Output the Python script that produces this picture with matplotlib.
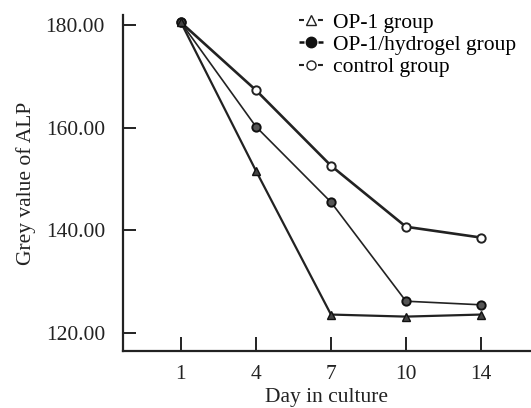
import matplotlib
matplotlib.use('Agg')
import matplotlib.pyplot as plt
from matplotlib.lines import Line2D

days = ['1', '4', '7', '10', '14']
op1 = [180.5, 151.6, 123.6, 123.2, 123.6]
op1_hydrogel = [180.5, 160.2, 145.5, 126.2, 125.5]
control = [180.5, 167.3, 152.6, 140.7, 138.6]
y_ticks = [120, 140, 160, 180]

plt.rcParams['font.family'] = ['Liberation Serif', 'DejaVu Serif']

fig = plt.figure(figsize=(5.31, 4.08), dpi=100)
ax = fig.add_axes([0.2316, 0.1397, 0.7684, 0.8235])

x = list(range(len(days)))
ax.plot(x, control, color='#222222', lw=1.9, marker='o', ms=6,
        mfc='white', mec='#222222', mew=1.4, zorder=3)
ax.plot(x, op1_hydrogel, color='#222222', lw=1.2, marker='o', ms=6,
        mfc='#555555', mec='#111111', mew=1.4, zorder=4)
ax.plot(x, op1, color='#222222', lw=1.6, marker='^', ms=5.5,
        mfc='#444444', mec='#111111', mew=1.0, zorder=5)

ax.set_xlim(-0.773, 4.667)
ax.set_ylim(116.5, 181.95)
ax.set_xticks(x)
ax.set_xticklabels(days)
ax.set_yticks(y_ticks)
ax.set_yticklabels([f'{v:.2f}' for v in y_ticks])

for s in ['top', 'right']:
    ax.spines[s].set_visible(False)
for s in ['left', 'bottom']:
    ax.spines[s].set_linewidth(1.6)
    ax.spines[s].set_color('#222222')

ax.tick_params(axis='x', direction='in', length=10, width=1.4, pad=10,
               labelsize=15.5, colors='#222222')
ax.tick_params(axis='y', direction='in', length=9, width=1.4, pad=13,
               labelsize=15.5, colors='#222222')

ax.set_xlabel('Day in culture', fontsize=15.5, color='#222222', labelpad=3)
ax.set_ylabel('Grey value of ALP', fontsize=15.5, color='#222222', labelpad=7)

# legend handles drawn as "-marker-"
handles = [
    Line2D([0], [0], color='#222222', lw=1.5, dashes=(2.4, 6.7), marker='^',
           ms=6.5, mfc='white', mec='#222222'),
    Line2D([0], [0], color='#111111', lw=1.8, dashes=(2.0, 5.6), marker='o',
           ms=7.5, mfc='#111111', mec='#111111'),
    Line2D([0], [0], color='#222222', lw=1.5, dashes=(2.4, 6.7), marker='o',
           ms=6.5, mfc='white', mec='#222222'),
]
labels = ['OP-1 group', 'OP-1/hydrogel group', 'control group']
fig.legend(handles, labels, loc='upper left', bbox_to_anchor=(0.546, 0.99),
           frameon=False, fontsize=15.5, handlelength=1.15, handletextpad=0.45,
           labelspacing=0.1, borderaxespad=0)

fig.savefig('out.png', dpi=100)
